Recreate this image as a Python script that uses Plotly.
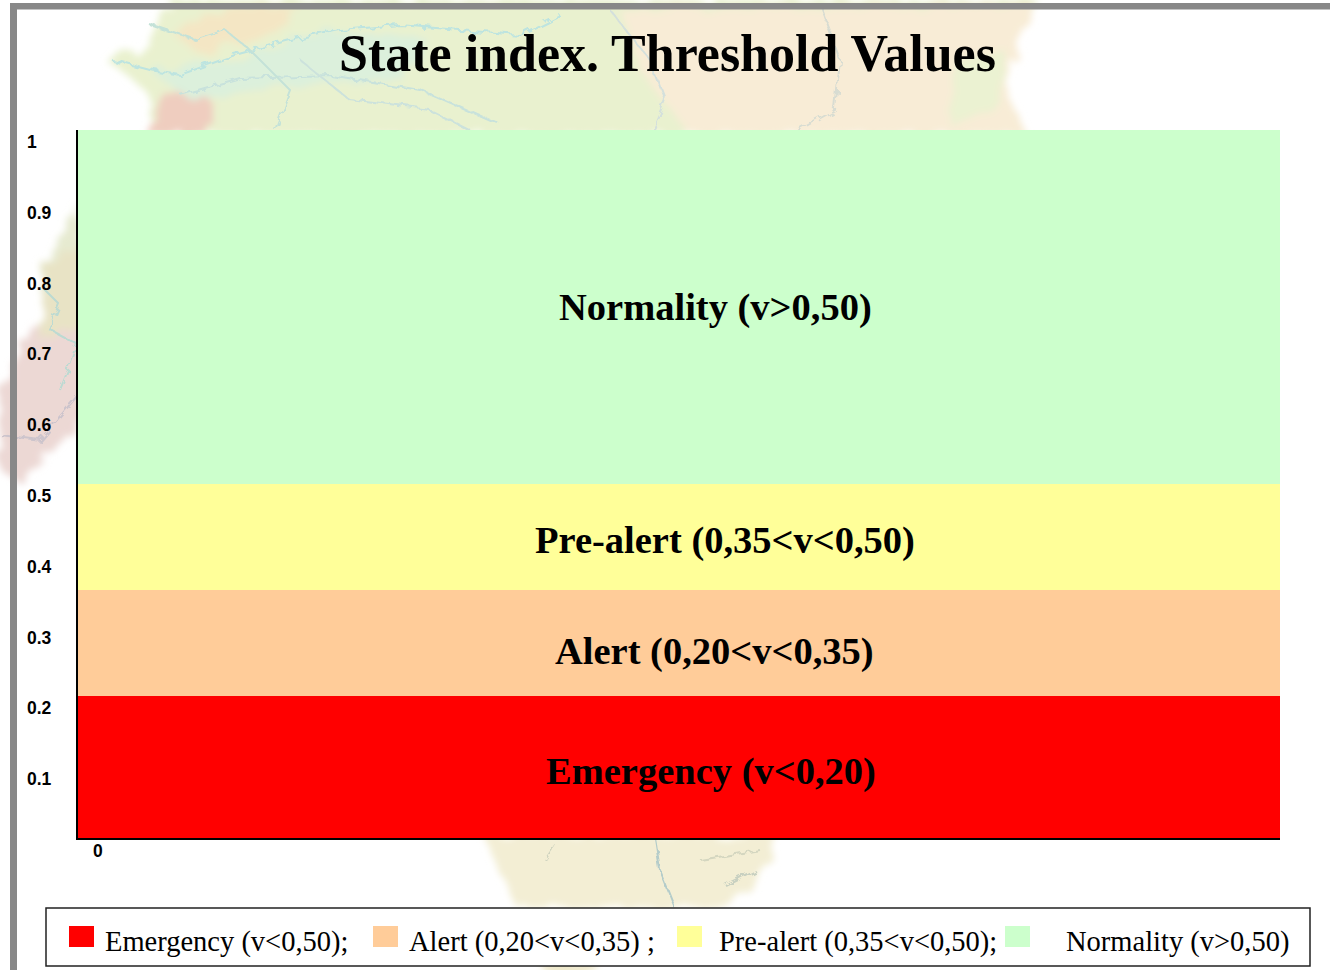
import base64
import plotly.graph_objects as go

W, H = 1330, 970
SERIF = "Liberation Serif, serif"
SANS = "Liberation Sans, Arial, sans-serif"

# data
categories = ["0"]
zone_names = ["Emergency (v<0,20)", "Alert (0,20<v<0,35)", "Pre-alert (0,35<v<0,50)", "Normality (v>0,50)"]
zone_values = [0.20, 0.15, 0.15, 0.50]
zone_colors = ["#ff0000", "#ffcc99", "#ffff99", "#ccffcc"]
y_ticks = [0.1, 0.2, 0.3, 0.4, 0.5, 0.6, 0.7, 0.8, 0.9, 1]
y_tick_labels = ["0.1", "0.2", "0.3", "0.4", "0.5", "0.6", "0.7", "0.8", "0.9", "1"]
legend_labels = ["Emergency (v<0,50);", "Alert (0,20<v<0,35) ;", "Pre-alert (0,35<v<0,50);", "Normality (v>0,50)"]

px = lambda v: v / W
py = lambda v: 1 - v / H

# Pale decorative map, drawn as one blurred background picture
def pts(p):
    return " ".join(f"{x},{y}" for x, y in p)
map_polys = [
    ([(105,60),(150,45),(160,15),(178,0),(1040,0),(1025,25),(1005,80),(1025,135),(150,135),(150,95),(118,68)], "#e9f1cf"),
    ([(145,135),(160,95),(195,85),(215,105),(205,135)], "#efcdbf"),
    ([(170,30),(240,5),(300,8),(270,35),(200,55)], "#f4e6c4"),
    ([(150,70),(230,60),(330,30),(430,40),(400,80),(290,85),(190,100)], "#dcf0dc"),
    ([(620,10),(1035,5),(1005,80),(1025,135),(690,135),(640,70)], "#f8ecd6"),
    ([(960,60),(1005,50),(1000,105),(950,125)], "#ebf2d2"),
    ([(40,270),(78,205),(82,340),(45,345)], "#e6ead0"),
    ([(0,470),(0,385),(30,330),(85,320),(85,420),(60,445),(18,482)], "#ecd8d4"),
    ([(45,265),(85,240),(85,325),(40,340)], "#e8e3c5"),
    ([(483,835),(775,835),(757,890),(707,908),(517,908)], "#f3eed4"),
    ([(540,960),(600,960),(590,975),(548,975)], "#efe9cc"),
]
map_lines = [
    ([(112,60),(150,70),(180,75),(235,55),(290,40),(340,30),(400,25),(520,35),(560,15)], "#bde4e0"),
    ([(180,95),(240,78),(330,75),(420,90),(500,125)], "#c8e2dc"),
    ([(150,25),(195,40),(225,30),(250,50),(290,90),(275,130)], "#c4e2d8"),
    ([(300,60),(350,100),(430,110),(470,130)], "#cce2dc"),
    ([(610,10),(650,60),(665,100),(650,135)], "#d4e0dc"),
    ([(820,5),(840,60),(835,110),(790,135)], "#d8dcd2"),
    ([(45,290),(60,305),(50,330),(78,345),(60,390)], "#bcdad2"),
    ([(0,435),(40,440),(78,395)], "#ccc4cc"),
    ([(655,838),(660,870),(675,908)], "#b4ccca"),
    ([(545,860),(555,845)], "#d0d4c0"),
    ([(700,860),(760,850)], "#d4d6c0"),
    ([(725,885),(755,870)], "#c8d0c0"),
]
svg = [f'<svg xmlns="http://www.w3.org/2000/svg" width="{W}" height="{H}" viewBox="0 0 {W} {H}">',
       '<defs><filter id="f" x="-5%" y="-5%" width="110%" height="110%">'
       '<feTurbulence type="fractalNoise" baseFrequency="0.06" numOctaves="3" seed="4" result="n"/>'
       '<feDisplacementMap in="SourceGraphic" in2="n" scale="16" result="d"/>'
       '<feGaussianBlur in="d" stdDeviation="3.5"/></filter>'
       '<filter id="g" x="-5%" y="-5%" width="110%" height="110%">'
       '<feTurbulence type="fractalNoise" baseFrequency="0.1" numOctaves="2" seed="9" result="n"/>'
       '<feDisplacementMap in="SourceGraphic" in2="n" scale="10" result="d"/>'
       '<feGaussianBlur in="d" stdDeviation="0.6"/></filter></defs>',
       '<g filter="url(#f)">']
for p, c in map_polys:
    svg.append(f'<polygon points="{pts(p)}" fill="{c}"/>')
svg.append('</g><g filter="url(#g)" fill="none" stroke-width="2">')
for p, c in map_lines:
    svg.append(f'<polyline points="{pts(p)}" stroke="{c}"/>')
svg.append('</g></svg>')
map_uri = "data:image/svg+xml;base64," + base64.b64encode("".join(svg).encode()).decode()

fig = go.Figure()
for name, val, col in zip(zone_names, zone_values, zone_colors):
    fig.add_trace(go.Bar(x=categories, y=[val], name=name, marker=dict(color=col, line=dict(width=0)),
                         width=1, showlegend=False, hoverinfo="name"))

shapes = []
# gray page frame
for x0, y0, x1, y1 in [(10, 3, 1330, 9.5), (10, 3, 17, 970)]:
    shapes.append(dict(type="rect", xref="paper", yref="paper", x0=px(x0), x1=px(x1), y0=py(y0), y1=py(y1),
                       fillcolor="#888888", line=dict(width=0), layer="above"))
# legend box
shapes.append(dict(type="rect", xref="paper", yref="paper", x0=px(46), x1=px(1310), y0=py(908), y1=py(966),
                   fillcolor="white", line=dict(color="#222222", width=1.5), layer="below"))
legend_swatch_x = [69, 373, 677, 1005]
legend_text_x = [103, 407, 717, 1064]
for x, col in zip(legend_swatch_x, zone_colors):
    shapes.append(dict(type="rect", xref="paper", yref="paper", x0=px(x), x1=px(x + 25), y0=py(926), y1=py(947),
                       fillcolor=col, line=dict(width=0), layer="above"))

ann = []
ann.append(dict(text="<b>State index. Threshold Values</b>", xref="paper", yref="paper", x=px(667), y=py(53),
                showarrow=False, font=dict(family=SERIF, size=52, color="black"), xanchor="center", yanchor="middle"))
for t, lab in zip(y_ticks, y_tick_labels):
    ann.append(dict(text=f"<b>{lab}</b>", xref="paper", yref="y", x=px(25), y=t, yshift=-12, showarrow=False,
                    xanchor="left", yanchor="middle", font=dict(family=SANS, size=17.5, color="black")))
ann.append(dict(text="<b>0</b>", xref="paper", yref="y", x=px(98), y=0, yshift=-13, showarrow=False,
                xanchor="center", yanchor="middle", font=dict(family=SANS, size=17.5, color="black")))
zone_label_x = [711, 714, 725, 715]
zone_label_shift = [-4, -8, -3, 0]
cum = 0
for name, val, lx, sh in zip(zone_names, zone_values, zone_label_x, zone_label_shift):
    esc = name.replace("<", "&lt;").replace(">", "&gt;")
    ann.append(dict(text=f"<b>{esc}</b>", xref="paper", yref="y", x=px(lx), y=cum + val / 2, yshift=sh, showarrow=False,
                    xanchor="center", yanchor="middle", font=dict(family=SERIF, size=38.5, color="black")))
    cum += val
for lx, lab in zip(legend_text_x, legend_labels):
    esc = lab.replace("<", "&lt;").replace(">", "&gt;")
    ann.append(dict(text=esc, xref="paper", yref="paper", x=px(lx), y=py(942), showarrow=False,
                    xanchor="left", yanchor="middle", font=dict(family=SERIF, size=28.5, color="black")))

fig.update_layout(
    width=W, height=H, margin=dict(l=0, r=0, t=0, b=0), autosize=False,
    paper_bgcolor="white", plot_bgcolor="rgba(0,0,0,0)", barmode="stack", bargap=0,
    shapes=shapes, annotations=ann,
    images=[dict(source=map_uri, xref="paper", yref="paper", x=0, y=1, sizex=1, sizey=1,
                 xanchor="left", yanchor="top", sizing="stretch", layer="below")],
    xaxis=dict(domain=[px(78), px(1280)], type="category", range=[-0.5, 0.5], showticklabels=False,
               ticks="", showgrid=False, zeroline=False, showline=True, linecolor="black", linewidth=1.5),
    yaxis=dict(domain=[py(838), py(130)], range=[0, 1], tickvals=y_ticks, showticklabels=False,
               ticks="", showgrid=False, zeroline=False, showline=True, linecolor="black", linewidth=1.5),
)
fig.write_html("out.html", config={"displayModeBar": False},
               post_script="document.body.style.margin='0';document.body.style.overflow='hidden';")
